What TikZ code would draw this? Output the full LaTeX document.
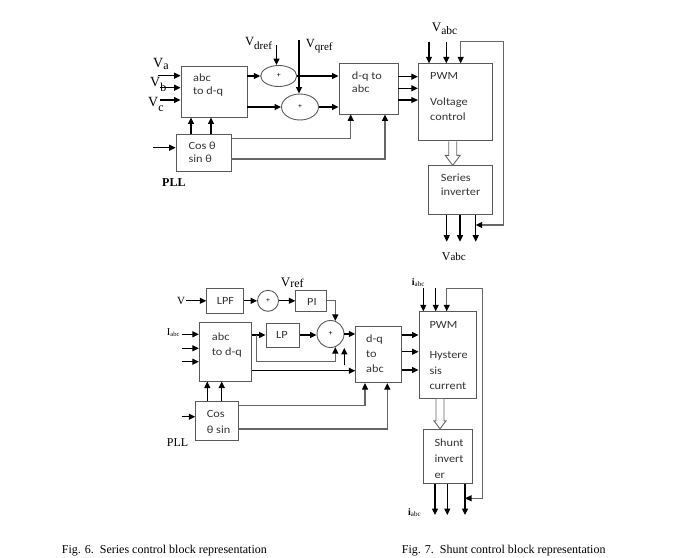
\documentclass[tikz,border=0pt]{standalone}
\usepackage{fontspec}
\setmainfont{Liberation Serif}
\newfontfamily\boxfont[FakeStretch=1.12]{Carlito}
\usetikzlibrary{arrows.meta,shapes.geometric,calc}
\newcommand\fsz[2]{{\fontsize{#1}{#1}\selectfont #2}}
\newcommand\VS[5]{{\fontsize{#1}{#1}\selectfont #2}\raisebox{-#5pt}{\fontsize{#3}{#3}\selectfont #4}}
\newcommand\hollowarrow[6]{% x, from node, to node, shaft half, head half, head len
  \draw[hol] ($(#1,0 |- #2.south)+(-#4,0)$) -- ($(#1,0 |- #3.north)+(-#4,-#6)$) -- ($(#1,0 |- #3.north)+(-#5,-#6)$) -- (#1,0 |- #3.north) -- ($(#1,0 |- #3.north)+(#5,-#6)$) -- ($(#1,0 |- #3.north)+(#4,-#6)$) -- ($(#1,0 |- #2.south)+(#4,0)$);}
\begin{document}
\begin{tikzpicture}[x=1pt,y=-1pt,
  blk/.style={draw=black!65, line width=0.9pt, inner sep=0pt},
  bt/.style={font=\boxfont\fontsize{11}{11}\selectfont, anchor=base west, inner sep=0pt, text=black!80},
  arr/.style={-{Triangle[length=6.5pt,width=6pt,color=black]}, line width=1.2pt},
  darr/.style={{Triangle[length=6.5pt,width=6pt,color=black]}-{Triangle[length=6.5pt,width=6pt,color=black]}, line width=1.2pt},
  gr/.style={draw=black!60},
  sumnode/.style={ellipse, draw=black!65, line width=0.9pt, inner sep=0pt, font=\boxfont\fontsize{7}{7}\selectfont},
  lab/.style={inner sep=0pt, anchor=base west},
  hol/.style={draw=black!60, line width=0.9pt, fill=white}]
\useasboundingbox (0,0) rectangle (684,557);

% ================= Fig. 6 =================
\node[blk, minimum width=66pt, minimum height=51pt] (abc1) at (214,91.5) {};
\node[blk, minimum width=59pt, minimum height=51pt] (dq1) at (368.5,88.5) {};
\node[blk, minimum width=74pt, minimum height=77pt] (pwm1) at (455.3,102.3) {};
\node[blk, minimum width=64pt, minimum height=49pt] (inv1) at (460.3,190.3) {};
\node[blk, minimum width=55pt, minimum height=37.5pt] (pll1) at (203.5,153) {};
\node[sumnode, minimum width=36pt, minimum height=21pt] (s1) at (278.7,76) {+};
\node[sumnode, minimum width=37pt, minimum height=26pt] (s2) at (300,107) {+};

\node[bt] (t-abc1a) at (193,81.5) {abc};
\node[bt] (t-abc1b) at (193,94) {to d-q};
\node[bt] (t-dq1a) at (351.7,79.3) {d-q to};
\node[bt] (t-dq1b) at (351.7,92.7) {abc};
\node[bt] (t-pwm1a) at (430,79.3) {PWM};
\node[bt] (t-pwm1b) at (430,105) {Voltage};
\node[bt] (t-pwm1c) at (430,120) {control};
\node[bt] (t-inv1a) at (440.7,181) {Series};
\node[bt] (t-inv1b) at (440.7,195) {inverter};
\node[bt] (t-pll1a) at (188.3,149) {Cos θ};
\node[bt] (t-pll1b) at (188.3,162.3) {sin θ};

\node[lab] (l-va) at (153,67.7) {\VS{14}{V}{12}{a}{2}};
\node[lab] (l-vb) at (150,86.7) {\VS{14}{V}{12}{b}{5}};
\node[lab] (l-vc) at (148,106) {\VS{14}{V}{12}{c}{5}};
\node[lab] (l-vd) at (245,45) {\VS{12.5}{V}{11}{dref}{4}};
\node[lab] (l-vq) at (305.7,47) {\VS{12.5}{V}{11}{qref}{3}};
\node[lab] (l-vabc1) at (431.7,31.7) {\VS{13}{V}{11.5}{abc}{2.3}};
\node[lab] (l-vabc2) at (441.7,260) {\VS{12}{V}{11}{abc}{0.5}};
\node[lab] (l-pll1) at (162,186.7) {\fsz{12}{\bfseries PLL}};

\coordinate (va) at (158,75.7);
\coordinate (vb) at (160,87.7);
\coordinate (vc) at (160,100);
\draw[arr] (va) -- (va -| abc1.west);
\draw[arr] (vb) -- (vb -| abc1.west);
\draw[arr] (vc) -- (vc -| abc1.west);
\coordinate (vd) at (276.5,45);
\draw[arr] (vd) -- (vd |- s1.north);
\coordinate (vq) at (299,40);
\draw[arr] (vq) -- (vq |- s2.north);
\draw[arr] (s1.west -| abc1.east) -- (s1.west);
\draw[arr] (s2.west -| abc1.east) -- (s2.west);
\draw[arr] (s1.east) -- (s1.east -| dq1.west);
\draw[arr] (s2.east) -- (s2.east -| dq1.west);
\foreach \yy in {76.7,88.3,100} {\draw[arr] (dq1.east |- 0,\yy) -- (pwm1.west |- 0,\yy);}
\coordinate (ta1) at (429,41.7);
\coordinate (ta2) at (446.3,41.7);
\coordinate (ta3) at (460.7,41.7);
\draw[arr] (ta1) -- (ta1 |- pwm1.north);
\draw[arr] (ta2) -- (ta2 |- pwm1.north);
\coordinate (oa1) at (446.7,241.7);
\coordinate (oa2) at (460,241.7);
\coordinate (oa3) at (475.7,241.7);
\draw[arr] (oa1 |- inv1.south) -- (oa1);
\draw[arr] (oa2 |- inv1.south) -- (oa2);
\draw[arr] (oa3 |- inv1.south) -- (oa3);
\coordinate (fa) at (503.3,225);
\coordinate (fb) at (503.3,41.7);
\draw[darr,gr] (oa3 |- fa) -- (fa) -- (fb) -- (ta3) -- (ta3 |- pwm1.north);
\hollowarrow{452.7}{pwm1}{inv1}{4}{7.5}{10}
\draw[arr] (191,0 |- pll1.north) -- (191,0 |- abc1.south);
\draw[arr] (211,0 |- pll1.north) -- (211,0 |- abc1.south);
\coordinate (pin1) at (153.3,147.7);
\draw[arr] (pin1) -- (pin1 -| pll1.west);
\draw[arr,gr] (pll1.east |- 0,138.3) -| (350.7,0 |- dq1.south);
\draw[arr,gr] (pll1.east |- 0,159) -| (385,0 |- dq1.south);

% ================= Fig. 7 =================
\node[blk, minimum width=36.6pt, minimum height=25pt] (lpf) at (225,300.8) {};
\node[sumnode, minimum width=21pt, minimum height=21pt] (sa) at (268,300.8) {+};
\node[blk, minimum width=31pt, minimum height=21pt] (pi) at (311.2,300.8) {};
\node[blk, minimum width=52.4pt, minimum height=58.3pt] (abc2) at (225.5,351.9) {};
\node[blk, minimum width=33.3pt, minimum height=24pt] (lp) at (282.6,335) {};
\node[sumnode, minimum width=27pt, minimum height=27pt] (sb) at (330.5,334) {+};
\node[blk, minimum width=46pt, minimum height=56.7pt] (dq2) at (378.7,354.3) {};
\node[blk, minimum width=57.7pt, minimum height=86.6pt] (pwm2) at (447.8,355) {};
\node[blk, minimum width=49pt, minimum height=54pt] (inv2) at (447.8,456.3) {};
\node[blk, minimum width=42.6pt, minimum height=39pt] (pll2) at (217,420.5) {};

\node[bt] (t-lpf) at (216.7,304.3) {LPF};
\node[bt] (t-pi) at (307,305) {PI};
\node[bt] (t-lp) at (276,338.3) {LP};
\node[bt] (t-abc2a) at (211.7,340) {abc};
\node[bt] (t-abc2b) at (211.7,355) {to d-q};
\node[bt] (t-pll2a) at (206.7,417.3) {Cos};
\node[bt] (t-pll2b) at (206.7,433.3) {θ sin};
\node[bt] (t-dq2a) at (366,342.7) {d-q};
\node[bt] (t-dq2b) at (366,357.3) {to};
\node[bt] (t-dq2c) at (366,372.7) {abc};
\node[bt] (t-pwm2a) at (429.3,328.3) {PWM};
\node[bt] (t-pwm2b) at (429.3,358.3) {Hystere};
\node[bt] (t-pwm2c) at (429.3,374.3) {sis};
\node[bt] (t-pwm2d) at (429.3,389.3) {current};
\node[bt] (t-inv2a) at (434.3,446) {Shunt};
\node[bt] (t-inv2b) at (434.3,462.7) {invert};
\node[bt] (t-inv2c) at (434.3,478.3) {er};

\node[lab] (l-v) at (177,304.3) {\fsz{11}{V}};
\node[lab] (l-vref) at (280.7,286) {\VS{13}{V}{12}{ref}{1.5}};
\node[lab] (l-iabc) at (166.7,335) {\VS{10.5}{I}{6.5}{abc}{1}};
\node[lab] (l-iabc1) at (411.7,285) {\VS{10}{\bfseries i}{7}{abc}{1.7}};
\node[lab] (l-iabc2) at (408,515) {\VS{10}{\bfseries i}{7}{abc}{1.7}};
\node[lab] (l-pll2) at (166.7,446) {\fsz{12}{PLL}};

\coordinate (vin) at (186,300.8);
\draw[arr] (vin) -- (lpf.west);
\draw[arr] (lpf.east) -- (sa.west);
\draw[arr] (sa.east) -- (pi.west);
\draw[arr,gr] (pi.east) -| (sb.70);
\draw[arr] (lp.west -| abc2.east) -- (lp.west);
\draw[arr] (lp.east) -- (lp.east -| sb.west);
\coordinate (br) at (256.7,335);
\coordinate (brb) at (256.7,361.7);
\draw[arr,gr] (br) -- (brb) -| (sb.290);
\coordinate (fr) at (344.3,365);
\draw[arr] (fr) -- (fr |- sb.south);
\draw[arr] (sb.east) -- (sb.east -| dq2.west);
\draw[arr] (abc2.east |- 0,370.7) -- (dq2.west |- 0,370.7);
\foreach \yy in {334.3,348.3,361.7} {\coordinate (ii) at (181.7,\yy); \draw[arr] (ii) -- (ii -| abc2.west);}
\foreach \yy in {335,351.7,370} {\draw[arr] (dq2.east |- 0,\yy) -- (pwm2.west |- 0,\yy);}
\coordinate (tb1) at (423.3,288.3);
\coordinate (tb2) at (435.7,288.3);
\coordinate (tb3) at (446.7,288.3);
\draw[arr] (tb1) -- (tb1 |- pwm2.north);
\draw[arr] (tb2) -- (tb2 |- pwm2.north);
\coordinate (ob1) at (435,515);
\coordinate (ob2) at (447.3,515);
\coordinate (ob3) at (465,515);
\draw[arr] (ob1 |- inv2.south) -- (ob1);
\draw[arr] (ob2 |- inv2.south) -- (ob2);
\draw[arr] (ob3 |- inv2.south) -- (ob3);
\coordinate (fc) at (482.7,498.3);
\coordinate (fd) at (482.7,288.3);
\draw[darr,gr] (ob3 |- fc) -- (fc) -- (fd) -- (tb3) -- (tb3 |- pwm2.north);
\hollowarrow{440}{pwm2}{inv2}{4}{6}{8}
\draw[arr] (207.3,0 |- pll2.north) -- (207.3,0 |- abc2.south);
\draw[arr] (221.7,0 |- pll2.north) -- (221.7,0 |- abc2.south);
\coordinate (pin2) at (181.7,416.7);
\draw[arr] (pin2) -- (pin2 -| pll2.west);
\draw[arr,gr] (pll2.east |- 0,405.7) -| (365,0 |- dq2.south);
\draw[arr,gr] (pll2.east |- 0,429) -| (387.3,0 |- dq2.south);

% captions
\node[lab] (cap6) at (61.7,553.5) {\fsz{12}{Fig. 6.\ \ Series control block representation}};
\node[lab] (cap7) at (401.7,553.5) {\fsz{12}{Fig. 7.\ \ Shunt control block representation}};
\end{tikzpicture}
\end{document}
